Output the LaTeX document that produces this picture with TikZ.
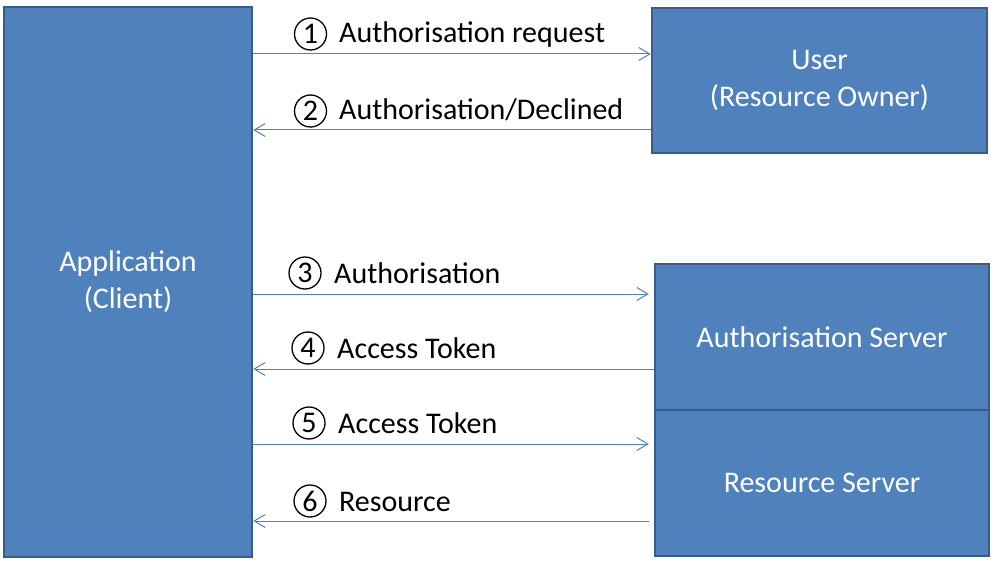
\documentclass[tikz,border=0pt]{standalone}
\usepackage{fontspec}
\setmainfont{Carlito}
\usetikzlibrary{arrows.meta}
\definecolor{boxfill}{HTML}{4F81BD}
\definecolor{boxline}{HTML}{385D8A}
\definecolor{arrcol}{HTML}{4F81BD}
\tikzset{
  box/.style={draw=boxline, line width=2.5pt, fill=boxfill, text=white, align=center,
    font=\fontsize{30}{37}\selectfont, inner sep=0pt},
  arr/.style={draw=arrcol, line width=1pt, -{Straight Barb[length=11pt,width=13pt,line width=1pt]}},
  lbl/.style={anchor=base west, inner sep=0pt, font=\fontsize{30}{37}\selectfont},
  num/.style={circle, draw=black, line width=1.3pt, minimum size=32pt, inner sep=0pt,
    font=\fontsize{30}{30}\selectfont},
}
\begin{document}
\begin{tikzpicture}[x=1pt,y=-1pt]
\useasboundingbox (0,0) rectangle (995,561);
\node[box, minimum width=248pt, minimum height=550pt] (app) at (128,282) {Application\\(Client)};
\node[box, minimum width=335pt, minimum height=145pt] (user) at (819.5,80.5) {User\\(Resource Owner)};
\node[box, minimum width=334pt, minimum height=146pt] (auth) at (822,337) {Authorisation Server};
\node[box, minimum width=334pt, minimum height=146pt] (res) at (822,483) {Resource Server};
\coordinate (r1) at (0,54);
\coordinate (r2) at (0,130);
\coordinate (r3) at (0,294);
\coordinate (r4) at (0,369);
\coordinate (r5) at (0,444);
\coordinate (r6) at (0,521);
\draw[arr] (app.east |- r1) -- (user.west |- r1);
\draw[arr] (user.west |- r2) -- (app.east |- r2);
\draw[arr, shorten >=5pt] (app.east |- r3) -- (auth.west |- r3);
\draw[arr] (auth.west |- r4) -- (app.east |- r4);
\draw[arr, shorten >=5pt] (app.east |- r5) -- (res.west |- r5);
\draw[arr, shorten <=5pt] (res.west |- r6) -- (app.east |- r6);
\node[num] (n1) at (310.5,34) {1};
\node[num] (n2) at (310.5,111) {2};
\node[num] (n3) at (305,273) {3};
\node[num] (n4) at (308,348) {4};
\node[num] (n5) at (309,423) {5};
\node[num] (n6) at (310,501) {6};
\node[lbl] (l1) at (339,43) {Authorisation request};
\node[lbl] (l2) at (339,120) {Authorisation/Declined};
\node[lbl] (l3) at (334,283) {Authorisation};
\node[lbl] (l4) at (337,358) {Access Token};
\node[lbl] (l5) at (338,433) {Access Token};
\node[lbl] (l6) at (339,511) {Resource};
\end{tikzpicture}
\end{document}
